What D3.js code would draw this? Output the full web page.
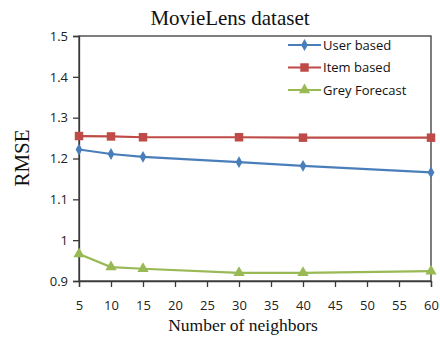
<!DOCTYPE html>
<html>
<head>
<meta charset="utf-8">
<script src="https://cdn.jsdelivr.net/npm/d3@7"></script>
<style>
  html, body { margin: 0; padding: 0; background: #fff; }
  svg { display: block; }
</style>
</head>
<body>
<svg id="chart" width="440" height="337"></svg>
<script>
// Neighbor counts and RMSE per method
const neighbors = [5, 10, 15, 30, 40, 60];
const userBased = [1.222, 1.211, 1.204, 1.191, 1.182, 1.166];
const itemBased = [1.255, 1.254, 1.252, 1.252, 1.251, 1.251];
const greyForecast = [0.966, 0.934, 0.930, 0.920, 0.920, 0.924];
const seriesNames = ["User based", "Item based", "Grey Forecast"];
const xTicks = [5, 10, 15, 20, 25, 30, 35, 40, 45, 50, 55, 60];
const yTicks = [0.9, 1.0, 1.1, 1.2, 1.3, 1.4, 1.5];
const yTickLabels = ["0.9", "1", "1.1", "1.2", "1.3", "1.4", "1.5"];

const svg = d3.select("#chart");
const m = { left: 79, right: 431, top: 36, bottom: 281 };

const x = d3.scaleLinear().domain([5, 60]).range([m.left, m.right]);
const y = d3.scaleLinear().domain([0.9, 1.5]).range([m.bottom, m.top]);

const axisColor = "#3a3a3a";
const tickFont = "'Open Sans', 'Liberation Sans', sans-serif";
const serif = "'Liberation Serif', 'DejaVu Serif', serif";

// plot frame
svg.append("rect")
  .attr("x", m.left).attr("y", m.top)
  .attr("width", m.right - m.left).attr("height", m.bottom - m.top)
  .attr("fill", "none").attr("stroke", axisColor).attr("stroke-width", 1.3);

// y axis
const yAxis = d3.axisLeft(y).tickValues(yTicks)
  .tickFormat((d, i) => yTickLabels[i]).tickSize(6).tickPadding(5);
const gy = svg.append("g").attr("transform", `translate(${m.left},0)`).call(yAxis);
gy.select(".domain").attr("stroke", axisColor).attr("stroke-width", 1.3);
gy.selectAll(".tick line").attr("stroke", axisColor).attr("stroke-width", 1.3);
gy.selectAll(".tick text").attr("font-family", tickFont).attr("font-size", 13).attr("fill", "#222");

// x axis
const xAxis = d3.axisBottom(x).tickValues(xTicks).tickSize(6).tickPadding(14);
const gx = svg.append("g").attr("transform", `translate(0,${m.bottom})`).call(xAxis);
gx.select(".domain").attr("stroke", axisColor).attr("stroke-width", 1.3);
gx.selectAll(".tick line").attr("stroke", axisColor).attr("stroke-width", 1.3);
gx.selectAll(".tick text").attr("font-family", tickFont).attr("font-size", 13).attr("fill", "#222");

// titles
svg.append("text").attr("x", 230).attr("y", 25).attr("text-anchor", "middle")
  .attr("font-family", serif).attr("font-size", 21).attr("fill", "#111")
  .text("MovieLens dataset");
svg.append("text").attr("transform", "translate(29,158) rotate(-90)")
  .attr("text-anchor", "middle").attr("font-family", serif).attr("font-size", 21)
  .attr("fill", "#111").text("RMSE");
svg.append("text").attr("x", 243).attr("y", 331).attr("text-anchor", "middle")
  .attr("font-family", serif).attr("font-size", 17.5).attr("fill", "#111")
  .text("Number of neighbors");

const series = [
  { name: seriesNames[0], values: userBased, color: "#4a7ebb", shape: d3.symbolDiamond, size: 40 },
  { name: seriesNames[1], values: itemBased, color: "#be4b48", shape: d3.symbolSquare, size: 72 },
  { name: seriesNames[2], values: greyForecast, color: "#98b954", shape: d3.symbolTriangle, size: 55 }
];

const line = d3.line().x(d => x(d[0])).y(d => y(d[1]));

series.forEach(s => {
  const pts = neighbors.map((n, i) => [n, s.values[i]]);
  svg.append("path").datum(pts).attr("d", line)
    .attr("fill", "none").attr("stroke", s.color).attr("stroke-width", 2.2);
  svg.append("g").selectAll("path").data(pts).join("path")
    .attr("transform", d => `translate(${x(d[0])},${y(d[1])})`)
    .attr("d", d3.symbol().type(s.shape).size(s.size))
    .attr("fill", s.color);
});

// legend
const legend = svg.append("g").attr("transform", "translate(288,45)");
series.forEach((s, i) => {
  const g = legend.append("g").attr("transform", `translate(0,${i * 22.5})`);
  g.append("line").attr("x1", 0).attr("x2", 33).attr("y1", 0).attr("y2", 0)
    .attr("stroke", s.color).attr("stroke-width", 2.2);
  g.append("path").attr("transform", "translate(16.5,0)")
    .attr("d", d3.symbol().type(s.shape).size(s.size)).attr("fill", s.color);
  g.append("text").attr("x", 35).attr("y", 4.5)
    .attr("font-family", tickFont).attr("font-size", 13).attr("fill", "#111")
    .text(s.name);
});
</script>
</body>
</html>
